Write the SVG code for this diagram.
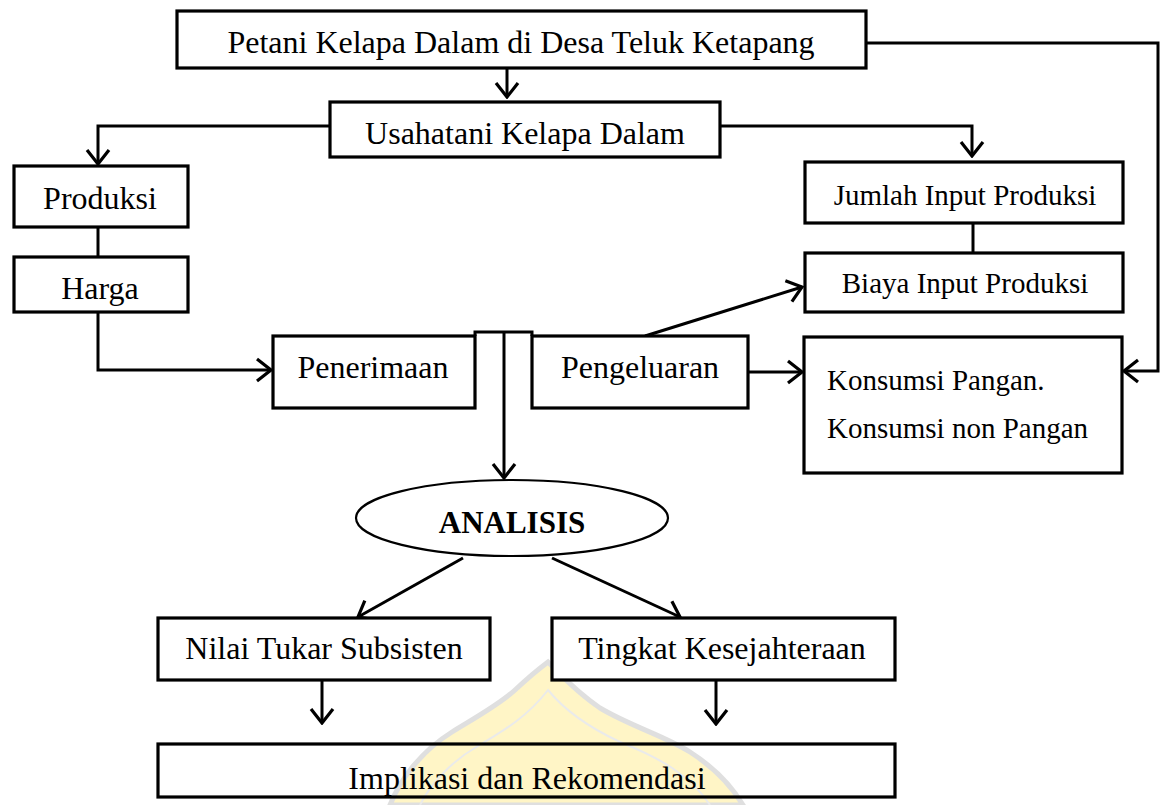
<svg xmlns="http://www.w3.org/2000/svg" width="1166" height="805" viewBox="0 0 1166 805">
<style>
.box{fill:#fff;stroke:#000;stroke-width:3.2}
.t{font-family:"Liberation Serif","Times New Roman",serif;font-size:32px;fill:#000;text-anchor:middle}
.s{font-size:29px}
.c{fill:none;stroke:#000;stroke-width:3}
</style>
<defs>
<marker id="ah" viewBox="0 0 18 26" refX="16" refY="13" markerWidth="18" markerHeight="26" markerUnits="userSpaceOnUse" orient="auto">
<path d="M2,2 L16,13 L2,24" fill="none" stroke="#000" stroke-width="3.2"/>
</marker>
</defs>
<rect width="1166" height="805" fill="#fff"/>
<g id="watermark" opacity="0.8">
<path d="M390,805 C400,780 420,752 452,732 C478,716 500,704 515,690 C530,676 540,668 548,662 C560,674 576,692 600,708 C630,726 665,736 690,752 C718,770 734,790 743,805 Z" fill="#fff3b8" stroke="#d8d8d8" stroke-width="5"/>
<path d="M420,805 C430,785 450,762 478,746 C505,730 528,716 548,690 C566,712 590,728 620,742 C660,758 690,775 710,805" fill="none" stroke="#e6e6e6" stroke-width="2"/>
</g>
<g id="connectors" class="c">
<line x1="507" y1="68" x2="507" y2="97" marker-end="url(#ah)"/>
<polyline points="330,126 98,126 98,164" marker-end="url(#ah)"/>
<polyline points="720,126 972,126 972,156" marker-end="url(#ah)"/>
<polyline points="866,43 1158,43 1158,371 1124,371" marker-end="url(#ah)"/>
<line x1="98" y1="227" x2="98" y2="257"/>
<polyline points="98,312 98,370 271,370" marker-end="url(#ah)"/>
<line x1="973" y1="223" x2="973" y2="253"/>
<line x1="645" y1="336" x2="802" y2="287" marker-end="url(#ah)"/>
<line x1="748" y1="372" x2="802" y2="372" marker-end="url(#ah)"/>
<polyline points="475,336 475,332 532,332 532,336"/>
<line x1="504" y1="332" x2="504" y2="478" marker-end="url(#ah)"/>
<line x1="463" y1="558" x2="358" y2="617" marker-end="url(#ah)"/>
<line x1="552" y1="558" x2="680" y2="617" marker-end="url(#ah)"/>
<line x1="322" y1="669" x2="322" y2="723" marker-end="url(#ah)"/>
<line x1="716" y1="670" x2="716" y2="724" marker-end="url(#ah)"/>
</g>
<g id="petani"><rect class="box" x="177" y="11" width="689" height="57"/><text class="t" x="521" y="53">Petani Kelapa Dalam di Desa Teluk Ketapang</text></g>
<g id="usahatani"><rect class="box" x="330" y="102" width="390" height="55"/><text class="t" x="525" y="144">Usahatani Kelapa Dalam</text></g>
<g id="produksi"><rect class="box" x="14" y="166" width="174" height="61"/><text class="t" x="100" y="209">Produksi</text></g>
<g id="harga"><rect class="box" x="14" y="257" width="174" height="55"/><text class="t" x="100" y="299">Harga</text></g>
<g id="jumlah"><rect class="box" x="805" y="162" width="318" height="61"/><text class="t s" x="965" y="205">Jumlah Input Produksi</text></g>
<g id="biaya"><rect class="box" x="805" y="253" width="318" height="59"/><text class="t s" x="965" y="293">Biaya Input Produksi</text></g>
<g id="penerimaan"><rect class="box" x="273" y="336" width="202" height="72"/><text class="t" x="373" y="378">Penerimaan</text></g>
<g id="pengeluaran"><rect class="box" x="532" y="336" width="216" height="72"/><text class="t" x="640" y="378">Pengeluaran</text></g>
<g id="konsumsi"><rect class="box" x="804" y="337" width="318" height="136"/><text class="t s" x="827" y="390" style="text-anchor:start">Konsumsi Pangan.</text><text class="t s" x="827" y="438" style="text-anchor:start">Konsumsi non Pangan</text></g>
<g id="analisis"><ellipse cx="512" cy="518" rx="156" ry="38" fill="#fff" stroke="#000" stroke-width="2.2"/><text class="t" x="512" y="533" style="font-weight:bold;font-size:31px">ANALISIS</text></g>
<g id="nilai"><rect class="box" x="158" y="618" width="332" height="62"/><text class="t" x="324" y="659">Nilai Tukar Subsisten</text></g>
<g id="tingkat"><rect class="box" x="552" y="618" width="343" height="62"/><text class="t" x="722" y="659">Tingkat Kesejahteraan</text></g>
<g id="implikasi"><rect class="box" x="158" y="744" width="737" height="53" style="fill:none"/><text class="t" x="527" y="789">Implikasi dan Rekomendasi</text></g>
</svg>
